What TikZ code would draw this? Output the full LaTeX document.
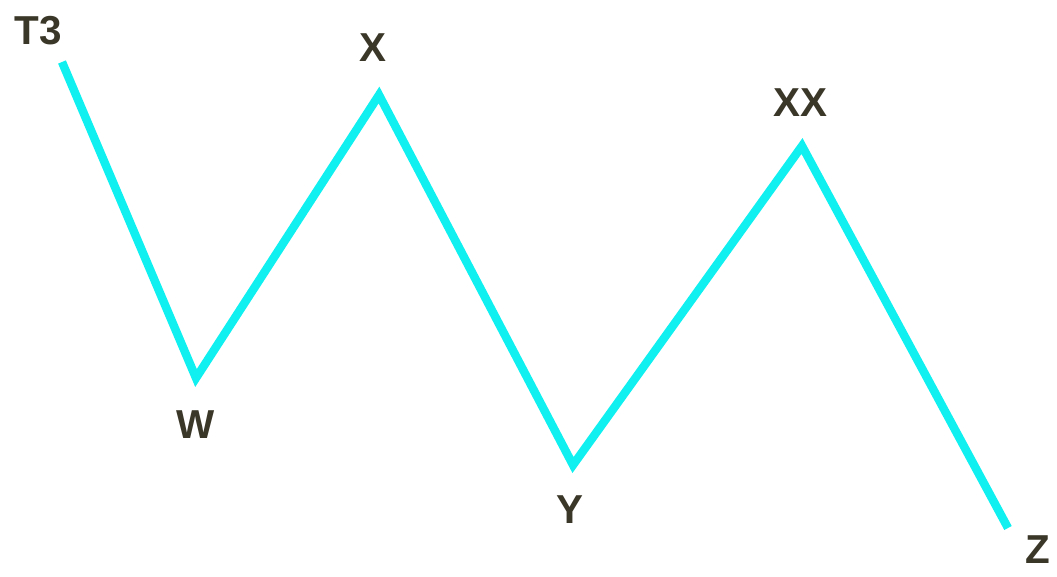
\documentclass[tikz,border=0pt]{standalone}
\usepackage{fontspec}
\setmainfont{Liberation Sans}
\definecolor{wave}{HTML}{10F0F0}
\definecolor{lbl}{HTML}{3A3628}
\begin{document}
\begin{tikzpicture}[x=0.02cm,y=-0.02cm,
  lab/.style={text=lbl,font=\bfseries\fontsize{23}{25}\selectfont,inner sep=0pt},
  wv/.style={draw=wave,line width=4.8pt,line join=miter,line cap=butt}]
\useasboundingbox (0,0) rectangle (1057,577);
\coordinate (t3) at (62,62);
\coordinate (w) at (196,378);
\coordinate (x) at (379,95);
\coordinate (y) at (573,465);
\coordinate (xx) at (802,146);
\coordinate (z) at (1008,528);
\draw[wv] (t3) -- (w) -- (x) -- (y) -- (xx) -- (z);
\node[lab] (lt3) at (38,31) {T3};
\node[lab] (lw) at (196,425) {W};
\node[lab] (lx) at (373,48) {X};
\node[lab] (ly) at (570,510) {Y};
\node[lab] (lxx) at (800,103) {XX};
\node[lab] (lz) at (1038,550) {Z};
\end{tikzpicture}
\end{document}
